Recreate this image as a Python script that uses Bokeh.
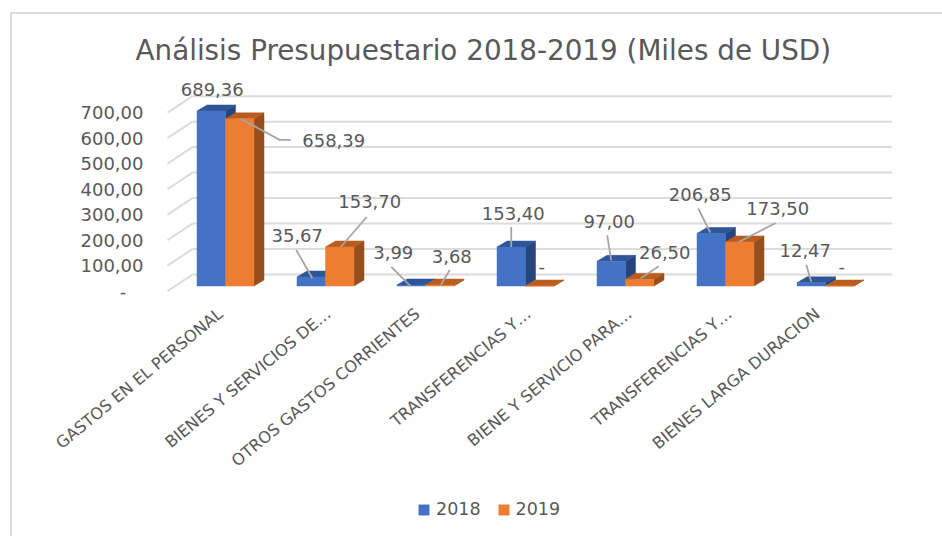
import math
from bokeh.embed import file_html
from bokeh.resources import INLINE
from bokeh.plotting import figure
from bokeh.models import (ColumnDataSource, Range1d, LinearAxis, FixedTicker,
                          Legend, LegendItem)

# ---- data -----------------------------------------------------------------
TITLE = "Análisis Presupuestario 2018-2019 (Miles de USD)"
categories = ["GASTOS EN EL PERSONAL", "BIENES Y SERVICIOS DE…", "OTROS GASTOS CORRIENTES",
              "TRANSFERENCIAS Y…", "BIENE Y SERVICIO PARA…", "TRANSFERENCIAS Y…",
              "BIENES LARGA DURACION"]
values_2018 = [689.36, 35.67, 3.99, 153.40, 97.00, 206.85, 12.47]
values_2019 = [658.39, 153.70, 3.68, 0.0, 26.50, 173.50, 0.0]
labels_2018 = ["689,36", "35,67", "3,99", "153,40", "97,00", "206,85", "12,47"]
labels_2019 = ["658,39", "153,70", "3,68", "-", "26,50", "173,50", "-"]
y_ticks = [0, 100, 200, 300, 400, 500, 600, 700]
y_tick_labels = ["-\u00a0\u00a0\u00a0", "100,00", "200,00", "300,00", "400,00", "500,00", "600,00", "700,00"]

# ---- label placement (px relative to the top of each bar) ---------------------
label_off_2018 = [(1, -21), (-14, -41), (-18, -32), (2, -34), (-2, -40), (-11, -39), (-6, -32)]
label_off_2019 = [(94, 22), (30, -45), (12, -29), (2, -20), (25, -27), (38, -33), (2, -20)]
leader_2018 = [None, [(-15, -27), (1, 1)], [(-20, -18), (-1, 1)], [(0, -20), (0, 0)],
               [(-4, -26), (0, -1)], [(-13, -25), (-1, -1)], [(-5, -18), (0, -1)]]
leader_2019 = [[(1, 0), (40, 21), (51, 21)], [(27, -30), (1, 0)], [(10, -15), (1, 0)], None,
               [(19, -13), (1, -1)], [(36, -19), (-1, 0)], None]
cat_label_nudge = [0, 8, -3, 8, 9, 9, -3]   # px

# ---- geometry -----------------------------------------------------------------
FW, FH = 808, 444          # frame size in px (reaches down to the legend)
FLOOR_GAP = 238.5          # px from the bars' base down to the frame's bottom edge
PX_X = 1 / 100             # category units per px (groups are 100px apart)
PX_Y = 1 / 0.2539          # value units per px
BAR_W = 28.5 * PX_X
DX, DY = 10 * PX_X, 6 * PX_Y

x_start = -1.41
x_end = x_start + FW * PX_X
y_start = -FLOOR_GAP * PX_Y
y_end = y_start + FH * PX_Y

p = figure(frame_width=FW, frame_height=FH, x_range=Range1d(x_start, x_end), y_range=Range1d(y_start, y_end),
           x_axis_type=None, y_axis_type=None,
           output_backend="svg", toolbar_location=None,
           min_border_left=84, min_border_right=50, min_border_top=80, min_border_bottom=12)
# chart box: only its top and left edges fall inside the window
p.styles = {"background": "linear-gradient(#dcdcdc,#dcdcdc) 10px 12px / 100% 2px no-repeat, "
                          "linear-gradient(#dcdcdc,#dcdcdc) 10px 12px / 2px 100% no-repeat"}
p.outline_line_color = None
p.grid.visible = False
p.background_fill_color = None
p.border_fill_color = None

p.title.text = TITLE
p.title.text_font = "DejaVu Sans"
p.title.text_font_style = "normal"
p.title.text_font_size = "27.8px"
p.title.text_color = "#595959"
p.title.align = "left"
p.title.offset = 51
p.title.standoff = 27

# walls: back gridlines and the diagonal floor-side lines
BACK, FRONT = 45, -20
GRID_L = (192 - 225) * PX_X
GRID_R = (892 - 225) * PX_X
SIDE_L = (167 - 225) * PX_X
p.segment(x0=[GRID_L] * len(y_ticks), x1=[GRID_R] * len(y_ticks),
          y0=[t * 1.004 + BACK for t in y_ticks], y1=[t * 1.004 + BACK for t in y_ticks],
          line_color="#dcdcdc", line_width=2)
p.segment(x0=[SIDE_L] * len(y_ticks), x1=[GRID_L] * len(y_ticks),
          y0=[t * 1.004 + FRONT for t in y_ticks], y1=[t * 1.004 + BACK for t in y_ticks],
          line_color="#dcdcdc", line_width=2)


def bars(vals, left_shift, front, side, top):
    lefts = [i + left_shift for i in range(len(vals))]
    rights = [l + BAR_W for l in lefts]
    xs_side = [[r, r + DX, r + DX, r] for r in rights]
    ys_side = [[0, DY, v + DY, v] for v in vals]
    xs_top = [[l, l + DX, r + DX, r] for l, r in zip(lefts, rights)]
    ys_top = [[v, v + DY, v + DY, v] for v in vals]
    p.patches(xs_side, ys_side, fill_color=side, line_color=side, line_width=0.5)
    p.patches(xs_top, ys_top, fill_color=top, line_color=top, line_width=0.5)
    return p.quad(left=lefts, right=rights, bottom=[0] * len(vals), top=vals,
                  fill_color=front, line_color=front, line_width=0.5)


r18 = bars(values_2018, -BAR_W, "#4472c4", "#27457d", "#2f5597")
r19 = bars(values_2019, 0, "#ed7d31", "#964f1c", "#b85d1f")


def leaders(vals, centre_shift, legs):
    xs, ys = [], []
    for i, (v, leg) in enumerate(zip(vals, legs)):
        if leg:
            xs.append([i + centre_shift + a * PX_X for a, _ in leg])
            ys.append([v - b * PX_Y for _, b in leg])
    p.multi_line(xs, ys, line_color="#a6a6a6", line_width=1.8)


def value_labels(vals, centre_shift, texts, offs):
    src = ColumnDataSource(dict(x=[i + centre_shift for i in range(len(vals))], y=vals, t=texts,
                                ox=[o[0] for o in offs], oy=[o[1] for o in offs]))
    p.text("x", "y", text="t", source=src, x_offset="ox", y_offset="oy", text_align="center",
           text_baseline="middle", text_font={"value": "DejaVu Sans"}, text_font_size="18px",
           text_color="#595959")


leaders(values_2018, -BAR_W / 2, leader_2018)
leaders(values_2019, BAR_W / 2, leader_2019)
value_labels(values_2018, -BAR_W / 2, labels_2018, label_off_2018)
value_labels(values_2019, BAR_W / 2, labels_2019, label_off_2019)

# axes (on ranges nudged a few px from the bars, as the reference's labels are)
AX_PER_PX = 1 / 0.2557
ax_start = -(FLOOR_GAP - 5.5) * AX_PER_PX
p.extra_y_ranges = {"axis": Range1d(ax_start, ax_start + FH * AX_PER_PX)}
yax = LinearAxis(y_range_name="axis", ticker=FixedTicker(ticks=y_ticks),
                 major_label_overrides=dict(zip(y_ticks, y_tick_labels)),
                 axis_line_color=None, major_tick_line_color=None, minor_tick_line_color=None,
                 major_label_text_font="DejaVu Sans", major_label_text_font_size="18px",
                 major_label_text_color="#595959", major_label_standoff=-65)
p.add_layout(yax, "left")

p.extra_x_ranges = {"cat": Range1d(x_start + 5 * PX_X, x_end + 5 * PX_X)}
cat_ticks = [round(i + n * PX_X, 2) for i, n in enumerate(cat_label_nudge)]
xax = LinearAxis(x_range_name="cat", ticker=FixedTicker(ticks=cat_ticks),
                 major_label_overrides=dict(zip(cat_ticks, categories)),
                 axis_line_color=None, major_tick_line_color=None, minor_tick_line_color=None,
                 major_label_orientation=math.radians(39.5),
                 major_label_text_font="DejaVu Sans", major_label_text_font_size="16.2px",
                 major_label_text_color="#595959", major_label_standoff=-219)
p.add_layout(xax, "below")

legend = Legend(items=[LegendItem(label="2018", renderers=[r18]), LegendItem(label="2019", renderers=[r19])],
                orientation="horizontal", location=(333, 5), border_line_color=None,
                background_fill_alpha=0, label_text_font="DejaVu Sans", label_text_font_size="17.5px",
                label_text_color="#595959", glyph_width=13, glyph_height=13, spacing=16,
                label_standoff=6, padding=0, margin=0)
p.add_layout(legend, "center")

open("out.html", "w").write(file_html(p, INLINE))
